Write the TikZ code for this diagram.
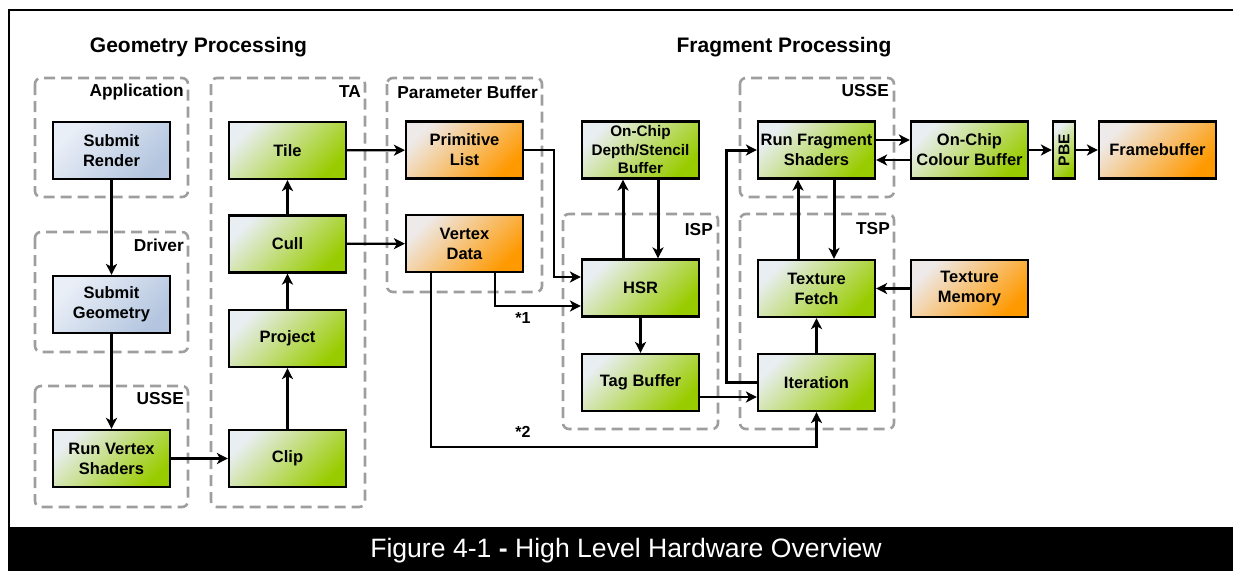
\documentclass[tikz,border=0pt]{standalone}
\usepackage{fontspec}
\setmainfont{Liberation Sans}
\usetikzlibrary{arrows.meta,calc}

\definecolor{greenLo}{HTML}{E9EEF2}
\definecolor{greenHi}{HTML}{99CC00}
\definecolor{orangeLo}{HTML}{EEEAEA}
\definecolor{orangeHi}{HTML}{FF9900}
\definecolor{blueLo}{HTML}{EAEFF7}
\definecolor{blueHi}{HTML}{B3C5DF}
\definecolor{groupgray}{HTML}{9E9E9E}

\begin{document}
\begin{tikzpicture}[x=1pt,y=-1pt,
  unit/.style={draw=black, line width=2.2pt, minimum width=117pt, minimum height=57pt,
    inner sep=0pt, align=center, font=\bfseries\fontsize{16.5}{20}\selectfont},
  grn/.style={unit, top color=greenLo, bottom color=greenHi, shading angle=45},
  org/.style={unit, top color=orangeLo, bottom color=orangeHi, shading angle=45},
  blu/.style={unit, top color=blueLo, bottom color=blueHi, shading angle=45},
  groupbox/.style={draw=groupgray, line width=2.6pt, dash pattern=on 11pt off 6pt, rounded corners=6pt},
  grouplabel/.style={anchor=east, inner sep=0pt, font=\bfseries\fontsize{17.3}{20}\selectfont},
  heading/.style={inner sep=0pt, font=\bfseries\fontsize{21}{24}\selectfont},
  flow/.style={draw=black, line width=2.2pt, -{Stealth[length=11pt, width=11pt, inset=3pt]}},
  heavyflow/.style={flow, line width=3pt},
  note/.style={inner sep=0pt, font=\bfseries\fontsize{16}{18}\selectfont}
]
\useasboundingbox (0,0) rectangle (1233,571);

% frame and caption bar
\draw[line width=2pt] (9,527) -- (9,10) -- (1233,10);
\fill[black] (8,527) rectangle (1233,571);
\node[text=white, inner sep=0pt, font=\fontsize{26.6}{30}\selectfont] (caption) at (626,551)
  {Figure 4-1 \textbf{-} High Level Hardware Overview};

% section headings
\node[heading] (geomhead) at (198.5,47) {Geometry Processing};
\node[heading] (fraghead) at (784,47) {Fragment Processing};

% grouping frames
\draw[groupbox] (35,78) rectangle (188,197);
\draw[groupbox] (35,232) rectangle (188,352);
\draw[groupbox] (35,386) rectangle (188,507);
\draw[groupbox] (211,78) rectangle (365,507);
\draw[groupbox] (387,78) rectangle (542,292);
\draw[groupbox] (563,214) rectangle (718,429);
\draw[groupbox] (740,78) rectangle (894,197);
\draw[groupbox] (740,214) rectangle (894,429);

\node[grouplabel] (lapp)   at (184,92)  {Application};
\node[grouplabel] (ldrv)   at (184,245) {Driver};
\node[grouplabel] (lusse1) at (184,399) {USSE};
\node[grouplabel] (lta)    at (361,92)  {TA};
\node[grouplabel] (lpb)    at (538,92)  {Parameter Buffer};
\node[grouplabel] (lisp)   at (713,230) {ISP};
\node[grouplabel] (lusse2) at (889,91)  {USSE};
\node[grouplabel] (ltsp)   at (890,229) {TSP};

% processing units
\node[blu] (srender) at (111.5,150.5) {Submit\\Render};
\node[blu] (sgeom)   at (111.5,304.5) {Submit\\Geometry};
\node[grn] (rvs)     at (111.5,458.5) {Run Vertex\\Shaders};

\node[grn] (tile)    at (287.5,150.5) {Tile};
\node[grn] (cull)    at (287.5,244)   {Cull};
\node[grn] (project) at (287.5,338.5) {Project};
\node[grn] (clip)    at (287.5,458.5) {Clip};

\node[org] (plist)   at (464.5,150)   {Primitive\\List};
\node[org] (vdata)   at (464.5,243.5) {Vertex\\Data};

\node[grn, font=\bfseries\fontsize{15.3}{18.5}\selectfont] (depth) at (640.5,150)
  {On-Chip\\Depth/Stencil\\Buffer};
\node[grn] (hsr)     at (640.5,288)   {HSR};
\node[grn] (tag)     at (640.5,382.5) {Tag Buffer};

\node[grn] (rfs)     at (816.5,150)   {Run Fragment\\Shaders};
\node[grn] (tfetch)  at (816.5,288.5) {Texture\\Fetch};
\node[grn] (iter)    at (816.5,382.5) {Iteration};

\node[grn] (occb)    at (969.5,150)   {On-Chip\\Colour Buffer};
\node[org] (tmem)    at (969.5,288.5) {Texture\\Memory};
\node[grn, minimum width=22pt] (pbe) at (1064,150) {};
\node[rotate=90, inner sep=0pt, font=\bfseries\fontsize{15.6}{18}\selectfont] (pbetext) at (pbe) {PBE};
\node[org] (fb)      at (1157.5,150)  {Framebuffer};

% geometry path
\draw[flow] (srender) -- (sgeom);
\draw[flow] (sgeom) -- (rvs);
\draw[flow] (rvs) -- (clip);
\draw[flow] (clip) -- (project);
\draw[flow] (project) -- (cull);
\draw[flow] (cull) -- (tile);
\draw[flow] (tile) -- (plist);
\draw[flow] (cull) -- (vdata);

% parameter buffer to ISP / TSP
\draw[flow] (plist.east) -- ++(30,0) |- ([yshift=11pt]hsr.west);
\draw[flow] ([xshift=30.5pt]vdata.south) |- ([yshift=-18pt]hsr.west);
\coordinate (lowrun) at (431,447);
\draw[flow] ([xshift=-33.5pt]vdata.south) -- (lowrun) -| (iter.south);
\node[note] (star1) at (523,318) {*1};
\node[note] (star2) at (523,432) {*2};

% ISP
\draw[heavyflow] ([xshift=-17.5pt]hsr.north) -- ([xshift=-17.5pt]depth.south);
\draw[heavyflow] ([xshift=17.5pt]depth.south) -- ([xshift=17.5pt]hsr.north);
\draw[flow] (hsr) -- (tag);
\draw[flow] ([yshift=-14.5pt]tag.east) -- ([yshift=-14.5pt]iter.west);

% TSP and USSE
\draw[heavyflow] (iter.west) -- ++(-30,0) |- (rfs.west);
\draw[flow] (iter) -- (tfetch);
\draw[heavyflow] ([xshift=-18.5pt]tfetch.north) -- ([xshift=-18.5pt]rfs.south);
\draw[heavyflow] ([xshift=17.5pt]rfs.south) -- ([xshift=17.5pt]tfetch.north);
\draw[flow] (tmem) -- (tfetch);

% output path
\draw[flow] ([yshift=10pt]rfs.east) -- ([yshift=10pt]occb.west);
\draw[flow] ([yshift=-10pt]occb.west) -- ([yshift=-10pt]rfs.east);
\draw[flow] (occb) -- (pbe);
\draw[flow] (pbe) -- (fb);
\end{tikzpicture}
\end{document}
